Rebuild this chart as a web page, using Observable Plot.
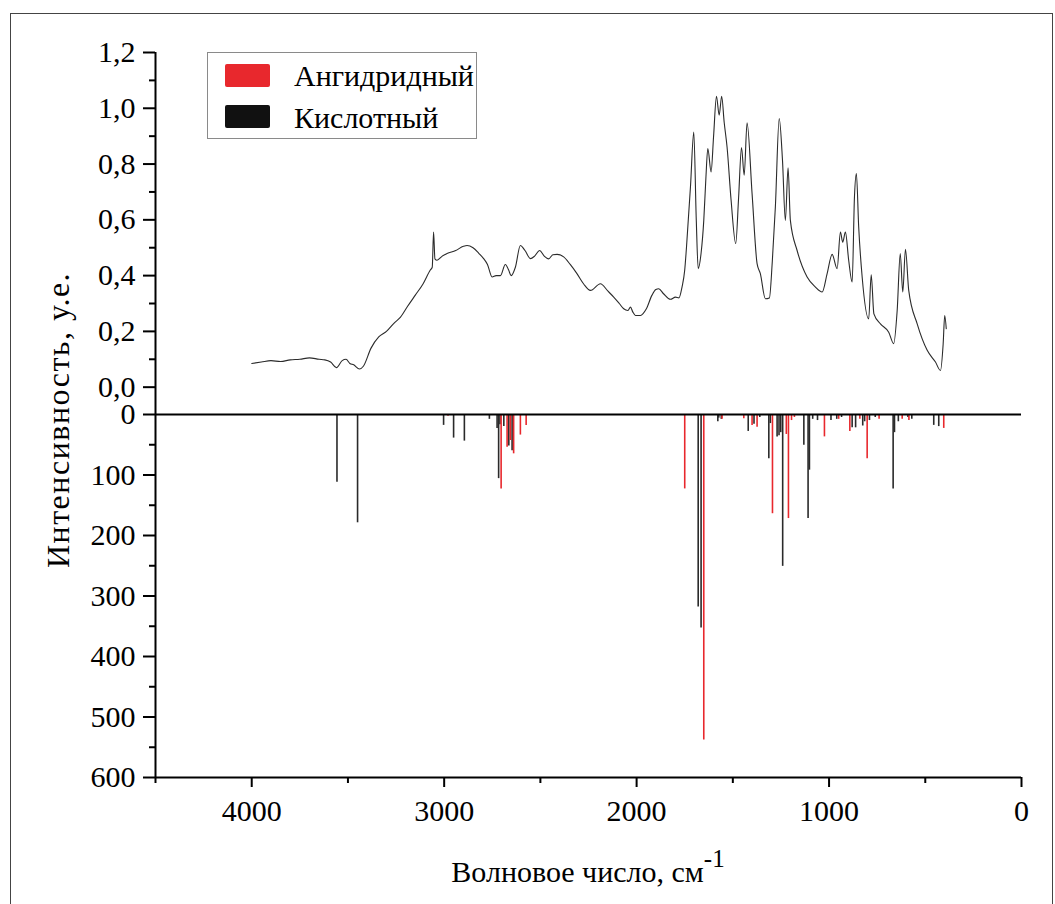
<!DOCTYPE html>
<html><head><meta charset="utf-8">
<script src="https://cdn.jsdelivr.net/npm/d3@7"></script>
<script src="https://cdn.jsdelivr.net/npm/@observablehq/plot@0.6"></script>
<style>
html,body{margin:0;padding:0;background:#fff;overflow:hidden}
#wrap{position:relative;width:1055px;height:904px;overflow:hidden;font-family:"Liberation Serif","DejaVu Serif",serif;color:#000}
#frame{position:absolute;left:10px;top:13px;width:1043px;height:920px;border:1.5px solid #444;box-sizing:border-box}
.layer{position:absolute;left:0;top:0}
#legend{position:absolute;left:207px;top:52px;width:270px;height:87px;border:1px solid #8a8a8a;box-sizing:border-box;background:#fff}
.sw{position:absolute;left:17px;width:45px;height:23px;border-radius:2px}
.lt{position:absolute;left:86px;font-size:30px;line-height:30px;white-space:nowrap}
#xt{position:absolute;left:288px;width:600px;top:848px;text-align:center;font-size:30px;line-height:30px}
#xt sup{font-size:25px;position:relative;top:-4px}
#yt{position:absolute;left:-142px;width:400px;top:405px;height:30px;text-align:center;font-size:32px;line-height:30px;letter-spacing:1.5px;transform:rotate(-90deg);white-space:nowrap}
</style></head>
<body><div id="wrap"></div>
<script>
// Top panel: IR spectrum (wavenumber, cm-1 / intensity, a.u.)
const specW = [4000,3950,3900,3850,3800,3750,3700,3650,3620,3590,3560,3530,3510,3490,3470,3440,3420,3380,3340,3300,3260,3228,3190,3150,3110,3072,3062,3055,3048,3037,3010,2985,2940,2900,2881,2850,2820,2795,2775,2751,2730,2708,2682,2665,2652,2630,2604,2580,2552,2530,2504,2480,2457,2435,2413,2379,2345,2310,2275,2240,2188,2150,2119,2090,2067,2045,2032,2020,2006,1980,1950,1920,1900,1885,1860,1824,1798,1780,1764,1750,1741,1720,1703,1690,1680,1665,1651,1640,1630,1613,1600,1585,1571,1558,1545,1530,1509,1485,1470,1455,1441,1426,1400,1374,1357,1331,1310,1295,1279,1259,1242,1227,1213,1201,1166,1114,1071,1036,1010,984,958,941,929,915,898,880,868,858,846,828,794,781,767,733,690,664,646,630,617,603,586,542,490,447,421,407,399,391];
const specA = [0.085,0.09,0.095,0.092,0.098,0.1,0.105,0.1,0.098,0.09,0.07,0.095,0.1,0.085,0.08,0.065,0.075,0.14,0.18,0.2,0.23,0.25,0.29,0.33,0.37,0.42,0.43,0.556,0.46,0.455,0.47,0.479,0.49,0.505,0.508,0.5,0.48,0.461,0.44,0.395,0.4,0.4,0.44,0.42,0.4,0.43,0.508,0.49,0.461,0.47,0.49,0.47,0.46,0.475,0.476,0.467,0.44,0.407,0.37,0.347,0.371,0.345,0.323,0.3,0.281,0.275,0.287,0.27,0.257,0.257,0.28,0.33,0.35,0.353,0.335,0.315,0.323,0.32,0.359,0.42,0.5,0.72,0.915,0.6,0.425,0.48,0.598,0.75,0.856,0.772,0.9,1.043,0.975,1.043,0.95,0.861,0.67,0.515,0.68,0.859,0.76,0.948,0.694,0.443,0.407,0.317,0.32,0.45,0.646,0.963,0.814,0.598,0.787,0.598,0.49,0.395,0.359,0.341,0.407,0.476,0.425,0.556,0.52,0.556,0.455,0.377,0.682,0.766,0.574,0.395,0.245,0.403,0.263,0.227,0.197,0.156,0.275,0.479,0.341,0.494,0.347,0.227,0.132,0.09,0.06,0.156,0.257,0.21];

// Bottom panel: calculated band intensities
const acidW = [3557,3450,3003,2951,2895,2765,2725,2717,2710,2690,2664,2647,1680,1665,1578,1573,1560,1420,1390,1360,1313,1305,1270,1260,1251,1241,1131,1109,1102,1085,1060,990,960,935,880,862,825,815,790,760,667,660,640,590,570,456,430];
const acidV = [112,179,18,39,44,8,23,106,17,20,52,60,318,353,12,6,8,28,16,5,73,15,37,35,30,251,51,172,92,8,10,10,8,5,22,22,19,12,10,5,123,30,12,5,8,18,20];
const anhW = [2980,2704,2673,2656,2639,2604,2574,1750,1651,1556,1443,1400,1374,1294,1222,1211,1195,1180,1024,950,892,840,802,740,620,585,404];
const anhV = [3,123,54,43,65,34,18,123,538,8,7,18,21,164,33,172,10,5,37,8,28,8,73,8,8,10,23];

const seriesNames = ["Ангидридный", "Кислотный"];
const seriesColors = ["#e8282d", "#111111"];
const topTicks = [0, 0.2, 0.4, 0.6, 0.8, 1.0, 1.2];
const topMinor = [0.1, 0.3, 0.5, 0.7, 0.9, 1.1];
const botTicks = [0, 100, 200, 300, 400, 500, 600];
const botMinor = [50, 150, 250, 350, 450, 550];
const xTicks = [4000, 3000, 2000, 1000, 0];
const xMinor = [4500, 3500, 2500, 1500, 500];
const xLabel = "Волновое число, см";
const yLabel = "Интенсивность, у.е.";

const spectrum = specW.map((w, i) => ({w, a: specA[i]}));
const acid = acidW.map((w, i) => ({w, v: acidV[i]}));
const anh = anhW.map((w, i) => ({w, v: anhV[i]}));

const style = {background: "transparent", fontFamily: "'Liberation Serif','DejaVu Serif',serif", fontSize: "30px", color: "#000", overflow: "visible"};
const comma = d => d.toFixed(1).replace(".", ",");

const bottom = Plot.plot({
  width: 1055, height: 904,
  marginLeft: 155, marginRight: 34, marginTop: 414, marginBottom: 127,
  style,
  x: {domain: [4500, 0], axis: null},
  y: {domain: [0, 600], reverse: true, axis: null},
  marks: [
    Plot.ruleX(acid, {x: "w", y1: 0, y2: "v", stroke: "#2a2a2a", strokeWidth: 1.6}),
    Plot.ruleX(anh, {x: "w", y1: 0, y2: "v", stroke: seriesColors[0], strokeWidth: 1.6}),
    Plot.ruleY([0], {stroke: "#000", strokeWidth: 2}),
    Plot.ruleY([600], {stroke: "#000", strokeWidth: 2}),
    Plot.ruleX([4500], {stroke: "#000", strokeWidth: 2}),
    Plot.axisY({ticks: botTicks, tickSize: 12, tickPadding: 8, strokeWidth: 2, tickFormat: d => String(d), label: null}),
    Plot.axisY({ticks: botMinor, tickSize: 6, strokeWidth: 2, tickFormat: () => "", label: null}),
    Plot.axisX({ticks: xTicks, tickSize: 10, tickPadding: 12, strokeWidth: 2, tickFormat: d => String(d), label: null, anchor: "bottom"}),
    Plot.axisX({ticks: xMinor, tickSize: 6, strokeWidth: 2, tickFormat: () => "", label: null, anchor: "bottom"})
  ]
});
bottom.classList.add("layer");

const topPlot = Plot.plot({
  width: 1055, height: 430,
  marginLeft: 155, marginRight: 34, marginTop: 52, marginBottom: 16,
  style,
  x: {domain: [4500, 0], axis: null},
  y: {domain: [-0.098, 1.2], axis: null},
  marks: [
    Plot.line(spectrum, {x: "w", y: "a", stroke: "#2b2b2b", strokeWidth: 1.1, curve: "monotone-x"}),
    Plot.ruleX([4500], {stroke: "#000", strokeWidth: 2}),
    Plot.axisY({ticks: topTicks, tickSize: 12, tickPadding: 8, strokeWidth: 2, tickFormat: comma, label: null}),
    Plot.axisY({ticks: topMinor, tickSize: 6, strokeWidth: 2, tickFormat: () => "", label: null})
  ]
});
topPlot.classList.add("layer");

const wrap = document.getElementById("wrap");
const frame = document.createElement("div"); frame.id = "frame"; wrap.appendChild(frame);
wrap.appendChild(bottom);
wrap.appendChild(topPlot);

const legend = document.createElement("div"); legend.id = "legend";
seriesNames.forEach((name, i) => {
  const sw = document.createElement("div"); sw.className = "sw";
  sw.style.top = (11 + i * 41) + "px"; sw.style.background = seriesColors[i];
  const t = document.createElement("div"); t.className = "lt";
  t.style.top = (8 + i * 42) + "px"; t.textContent = name;
  legend.appendChild(sw); legend.appendChild(t);
});
wrap.appendChild(legend);

const xt = document.createElement("div"); xt.id = "xt";
xt.innerHTML = xLabel + "<sup>-1</sup>";
wrap.appendChild(xt);
const yt = document.createElement("div"); yt.id = "yt"; yt.textContent = yLabel;
wrap.appendChild(yt);
</script>
</body></html>
